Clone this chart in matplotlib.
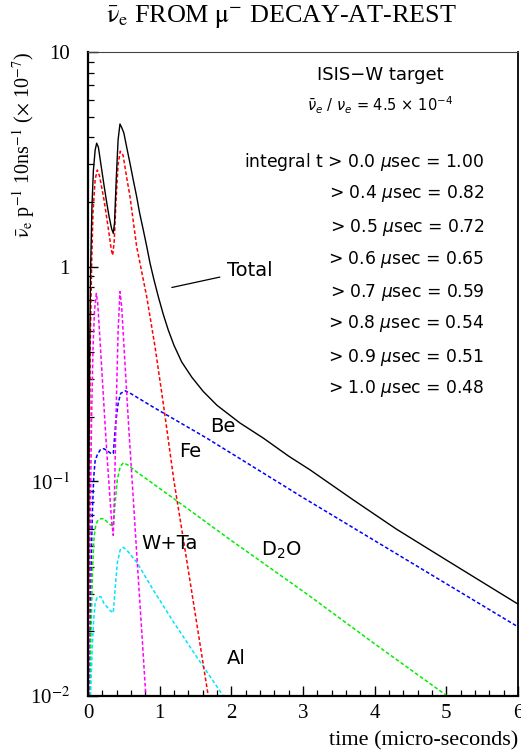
import matplotlib
matplotlib.use("Agg")
import matplotlib.pyplot as plt
import numpy as np
from matplotlib.ticker import FixedLocator, MultipleLocator, LogLocator, NullFormatter

plt.rcParams['font.family'] = 'serif'
plt.rcParams['font.serif'] = ['Liberation Serif', 'DejaVu Serif']
plt.rcParams['mathtext.fontset'] = 'stix'

# ---- data (time in micro-seconds, flux per 10 ns x 1e-7) ----
total_t = [0.0, 0.012, 0.025, 0.037, 0.055, 0.075, 0.1, 0.121, 0.145, 0.18, 0.223, 0.26, 0.293, 0.33, 0.353,
           0.37, 0.395, 0.42, 0.446, 0.47, 0.5, 0.54, 0.586, 0.63, 0.679, 0.72, 0.772, 0.82, 0.865, 0.92,
           0.981, 1.05, 1.12, 1.2, 1.307, 1.45, 1.609, 1.8, 2.12, 2.446, 2.8, 3.1, 3.7, 4.3, 5.0, 6.0]
total_y = [0.01, 0.1, 0.45, 1.0, 1.9, 2.8, 3.5, 3.76, 3.6, 3.0, 2.4, 2.0, 1.72, 1.5, 1.43,
           1.6, 2.6, 3.9, 4.62, 4.45, 4.2, 3.6, 3.03, 2.55, 2.12, 1.78, 1.48, 1.24, 1.04, 0.87,
           0.725, 0.6, 0.507, 0.43, 0.36, 0.305, 0.262, 0.226, 0.187, 0.159, 0.131, 0.113, 0.082, 0.06,
           0.043, 0.0268]

fe_t = [0.003, 0.015, 0.03, 0.05, 0.07, 0.1, 0.13, 0.16, 0.19, 0.223, 0.26, 0.293, 0.325, 0.344, 0.365,
        0.39, 0.42, 0.45, 0.49, 0.54, 0.586, 0.679, 0.819, 0.935, 1.05, 1.2, 1.35, 1.5, 1.68, 1.72]
fe_y = [0.01, 0.08, 0.4, 1.0, 1.8, 2.55, 2.82, 2.65, 2.35, 2.05, 1.7, 1.43, 1.2, 1.13, 1.3,
        2.0, 3.0, 3.45, 3.3, 2.6, 2.12, 1.24, 0.725, 0.424, 0.231, 0.1, 0.049, 0.0237, 0.0099, 0.0081]

wta_t = [0.01, 0.03, 0.05, 0.07, 0.09, 0.116, 0.135, 0.16, 0.2, 0.24, 0.27, 0.3, 0.33, 0.353, 0.37,
         0.395, 0.42, 0.446, 0.47, 0.526, 0.572, 0.63, 0.688, 0.75, 0.82]
wta_y = [0.01, 0.06, 0.2, 0.42, 0.62, 0.75, 0.68, 0.5, 0.3, 0.18, 0.125, 0.09, 0.065, 0.056, 0.09,
         0.231, 0.5, 0.765, 0.65, 0.31, 0.17, 0.085, 0.0416, 0.02, 0.0085]

be_t = [0.02, 0.04, 0.06, 0.08, 0.1, 0.13, 0.17, 0.22, 0.28, 0.33, 0.353, 0.386, 0.42, 0.456, 0.52,
        0.6, 0.897, 1.656, 3.0, 4.5, 6.0]
be_y = [0.01, 0.035, 0.07, 0.105, 0.125, 0.133, 0.14, 0.142, 0.138, 0.134, 0.135, 0.187, 0.23, 0.257, 0.264,
        0.256, 0.223, 0.159, 0.084, 0.042, 0.021]

d2o_t = [0.025, 0.045, 0.065, 0.085, 0.11, 0.14, 0.18, 0.223, 0.28, 0.316, 0.353, 0.38, 0.409, 0.45, 0.493,
         0.56, 0.642, 1.19, 2.0, 3.07, 4.0, 4.96, 5.05]
d2o_y = [0.01, 0.022, 0.04, 0.055, 0.063, 0.066, 0.067, 0.067, 0.064, 0.0627, 0.0618, 0.08, 0.102, 0.117, 0.122,
         0.119, 0.113, 0.0834, 0.053, 0.0296, 0.0175, 0.0103, 0.0098]

al_t = [0.035, 0.06, 0.08, 0.1, 0.13, 0.18, 0.223, 0.31, 0.353, 0.38, 0.409, 0.45, 0.493, 0.56, 0.688,
        0.9, 1.19, 1.5, 1.88, 1.92]
al_y = [0.01, 0.017, 0.023, 0.027, 0.029, 0.029, 0.027, 0.025, 0.0244, 0.032, 0.0416, 0.048, 0.0493, 0.047, 0.0416,
        0.0316, 0.0222, 0.0155, 0.0101, 0.0095]

cut_times = [0.0, 0.4, 0.5, 0.6, 0.7, 0.8, 0.9, 1.0]
fractions = [1.00, 0.82, 0.72, 0.65, 0.59, 0.54, 0.51, 0.48]

x_ticks = [0, 1, 2, 3, 4, 5, 6]
y_ticks = [0.01, 0.1, 1, 10]
y_tick_labels = ['10$^{-2}$', '10$^{-1}$', '1', '10']

# ---- figure ----
fig = plt.figure(figsize=(5.21, 7.56), dpi=100)
ax = fig.add_axes([88 / 521, 1 - 696 / 756, 430 / 521, 644 / 756])
ax.set_yscale('log')
ax.set_xlim(0, 6)
ax.set_ylim(0.01, 10)

dash = (0, (2.4, 1.5))
ax.plot(be_t, be_y, color='#0000ff', lw=1.1, ls=dash)
ax.plot(d2o_t, d2o_y, color='#00ee00', lw=1.1, ls=dash)
ax.plot(al_t, al_y, color='#00e5ff', lw=1.1, ls=dash)
ax.plot(wta_t, wta_y, color='#ff00ff', lw=1.1, ls=dash)
ax.plot(fe_t, fe_y, color='#ff0000', lw=1.1, ls=dash)
ax.plot(total_t, total_y, color='black', lw=1.0)

# ticks
ax.xaxis.set_major_locator(FixedLocator(x_ticks))
ax.set_xticklabels([str(v) for v in x_ticks])
ax.xaxis.set_minor_locator(MultipleLocator(0.2))
ax.yaxis.set_major_locator(FixedLocator(y_ticks))
ax.set_yticklabels(y_tick_labels)
ax.yaxis.set_minor_locator(LogLocator(base=10, subs=np.arange(2, 10)))
ax.yaxis.set_minor_formatter(NullFormatter())
ax.tick_params(which='both', direction='in', top=False, right=False, colors='black')
ax.tick_params(which='major', length=7, width=1.0, labelsize=15)
ax.tick_params(which='minor', length=4, width=0.9)
ax.tick_params(axis='x', which='major', pad=6)
ax.tick_params(axis='y', which='major', pad=13)

for s in ['left', 'bottom']:
    ax.spines[s].set_linewidth(1.6)
ax.spines['right'].set_linewidth(1.3)
ax.spines['top'].set_linewidth(0.8)
ax.spines['top'].set_color('#444444')

# labels
ax.set_xlabel('time (micro-seconds)', fontsize=16, loc='right')
ax.xaxis.set_label_coords(1.0, -0.055)
ax.set_ylabel(r'$\bar{\mathrm{\nu}}_{\mathrm{e}}$ p$^{-1}$ 10ns$^{-1}$ ($\times$ 10$^{-7}$)', fontsize=14.5, loc='top')
ax.yaxis.set_label_coords(-0.118, 1.0)
fig.text(281 / 521, 1 - 3 / 756, r'$\bar{\mathrm{\nu}}_{\mathrm{e}}$ FROM $\mathrm{\mu}^{-}$ DECAY-AT-REST',
         ha='center', va='top', fontsize=18.8)

sans = 'DejaVu Sans'
ax.text(0.679, 0.964, 'ISIS\u2212W target', transform=ax.transAxes, ha='center', va='center',
        family=sans, fontsize=13)
ax.text(0.679, 0.918, r'$\bar{\nu}_e\ /\ \nu_e$ = 4.5 $\times$ 10$^{-4}$', transform=ax.transAxes,
        ha='center', va='center', family=sans, fontsize=10.5, math_fontfamily='dejavusans')
line_y = [0.829, 0.780, 0.728, 0.678, 0.627, 0.578, 0.526, 0.477]
for i, (ct, fr) in enumerate(zip(cut_times, fractions)):
    prefix = 'integral t ' if i == 0 else ''
    ax.text(0.921, line_y[i], prefix + '> %.1f $\\mu$sec = %.2f' % (ct, fr), transform=ax.transAxes,
            ha='right', va='center', family=sans, fontsize=12.3, math_fontfamily='dejavusans')

ax.annotate('Total', xy=(1.17, 0.80), xytext=(1.935, 0.958), va='center', ha='left', family=sans,
            fontsize=14, arrowprops=dict(arrowstyle='-', lw=0.9, color='black', shrinkA=3, shrinkB=0))
ax.text(1.70, 0.18, 'Be', va='center', ha='left', family=sans, fontsize=14)
ax.text(1.27, 0.137, 'Fe', va='center', ha='left', family=sans, fontsize=14)
ax.text(0.75, 0.0516, 'W+Ta', va='center', ha='left', family=sans, fontsize=14)
ax.text(2.42, 0.0478, 'D$_2$O', va='center', ha='left', family=sans, fontsize=14, math_fontfamily='dejavusans')
ax.text(1.935, 0.015, 'Al', va='center', ha='left', family=sans, fontsize=14)

fig.savefig('out.png', dpi=100)
